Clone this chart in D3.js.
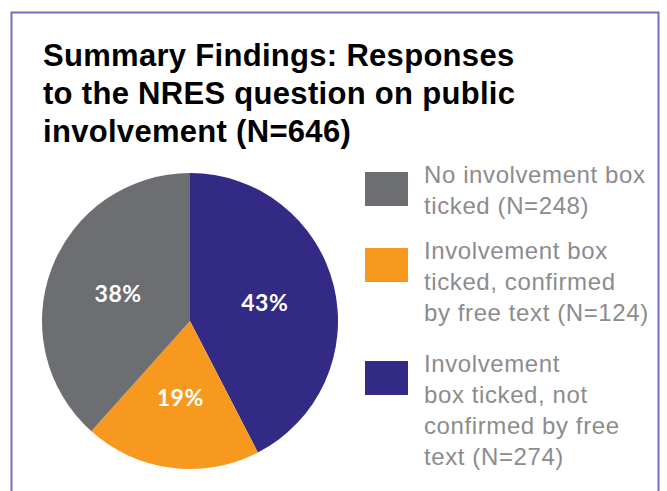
<!DOCTYPE html>
<html>
<head>
<meta charset="utf-8">
<script src="https://cdn.jsdelivr.net/npm/d3@7"></script>
<style>
  body { margin: 0; background: #fff; }
  svg { display: block; }
</style>
</head>
<body>
<div id="chart"></div>
<script>
const width = 667, height = 491;

// data
const categories = ["Involvement box ticked, not confirmed by free text", "Involvement box ticked, confirmed by free text", "No involvement box ticked"];
const counts = [274, 124, 248];
const pctLabels = ["43%", "19%", "38%"];
const colors = ["#332a85", "#f7991e", "#6d6e71"];
const titleLines = ["Summary Findings: Responses", "to the NRES question on public", "involvement (N=646)"];
// legend order top to bottom, with wrapped lines
const legendOrder = [2, 1, 0];
const legendLines = [
  ["No involvement box", "ticked (N=248)"],
  ["Involvement box", "ticked, confirmed", "by free text (N=124)"],
  ["Involvement", "box ticked, not", "confirmed by free", "text (N=274)"]
];

var svg = d3.select("#chart")
  .append("svg")
  .attr("width", width)
  .attr("height", height);

// frame
svg.append("path")
  .attr("d", "M11.5,500 V12.5 H658.5 V500")
  .attr("fill", "none")
  .attr("stroke", "#7570b4")
  .attr("stroke-width", 2);

// title
svg.append("text")
  .attr("x", 43)
  .attr("y", 66)
  .style("font-family", "'Liberation Sans', Arial, sans-serif")
  .style("font-weight", "bold")
  .style("font-size", "31px")
  .style("letter-spacing", "0.3px")
  .attr("fill", "#000")
  .selectAll("tspan")
  .data(titleLines)
  .enter()
  .append("tspan")
    .attr("x", 43)
    .attr("dy", (d, i) => i === 0 ? 0 : 38)
    .text(d => d);

// pie
const r = 148;
const cx = 190, cy = 321;
var pie = d3.pie().sort(null).value(d => d);
var arc = d3.arc().innerRadius(0).outerRadius(r);
var labelArc = d3.arc().innerRadius(r * 0.52).outerRadius(r * 0.52);

var g = svg.append("g").attr("transform", "translate(" + cx + "," + cy + ")");
var arcs = pie(counts);

g.selectAll("path")
  .data(arcs)
  .enter()
  .append("path")
    .attr("d", arc)
    .attr("fill", (d, i) => colors[i]);

g.selectAll("text")
  .data(arcs)
  .enter()
  .append("text")
    .attr("transform", d => "translate(" + labelArc.centroid(d) + ")")
    .attr("text-anchor", "middle")
    .attr("dy", "0.36em")
    .style("font-family", "Lato, 'Open Sans', sans-serif")
    .style("font-weight", "bold")
    .style("font-size", "23px")
    .style("letter-spacing", "0.5px")
    .attr("fill", "#fff")
    .text((d, i) => pctLabels[i]);

// legend
const legTops = [172, 248, 361];
const lineH = 31;
var leg = svg.append("g");
legendOrder.forEach(function (idx, k) {
  leg.append("rect")
    .attr("x", 365)
    .attr("y", legTops[k])
    .attr("width", 43)
    .attr("height", 34)
    .attr("fill", colors[idx]);
  leg.append("text")
    .attr("y", legTops[k] + 11)
    .style("font-family", "'Liberation Sans', Arial, sans-serif")
    .style("font-size", "24px")
    .style("letter-spacing", "0.6px")
    .attr("fill", "#8b8c8e")
    .selectAll("tspan")
    .data(legendLines[k])
    .enter()
    .append("tspan")
      .attr("x", 424)
      .attr("dy", (d, i) => i === 0 ? 0 : lineH)
      .text(d => d);
});
</script>
</body>
</html>
